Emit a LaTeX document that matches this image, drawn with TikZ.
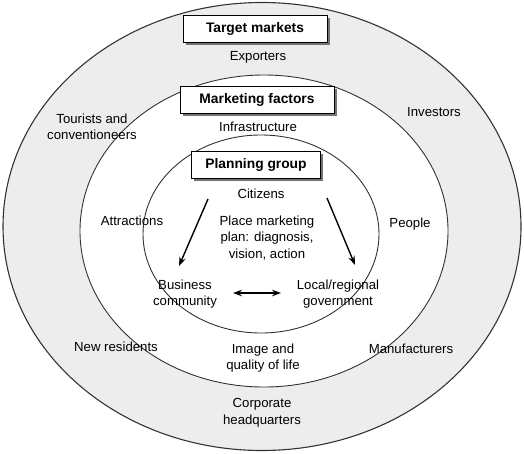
\documentclass[tikz,border=0pt]{standalone}
\usepackage{fontspec}
\setmainfont{Liberation Sans}
\usetikzlibrary{shadows,arrows.meta}

\tikzset{
  ring/.style={draw=black!80, line width=0.9pt},
  headbox/.style={draw, line width=0.9pt, fill=white, font=\fontsize{13.8}{15}\selectfont\bfseries,
    minimum height=27pt, drop shadow={shadow xshift=2.5pt, shadow yshift=-2.5pt, fill=black!55, opacity=1}},
  lbl/.style={font=\fontsize{13.2}{16.5}\selectfont, align=center, inner sep=1pt},
  flow/.style={-{Stealth[length=9pt,width=6.5pt]}, line width=1.4pt}
}

\begin{document}
\begin{tikzpicture}[x=1pt,y=-1pt]
\useasboundingbox (0,0) rectangle (524,453);

% circles
\draw[ring, line width=1.1pt, fill=black!7] (262,226.5) ellipse (259 and 224);
\draw[ring, fill=white] (264,231) ellipse (184 and 156);
\draw[ring, fill=white] (261,234) ellipse (118 and 99);

% headings
\node[headbox, minimum width=144pt] (target) at (255,29) {Target markets};
\node[headbox, minimum width=154pt] (factors) at (257,100) {Marketing factors};
\node[headbox, minimum width=129pt] (planning) at (256,165) {Planning group};

% outer ring
\node[lbl] (exporters) at (258,57) {Exporters};
\node[lbl] (tourists) at (92,127) {Tourists and\\conventioneers};
\node[lbl] (investors) at (434,112) {Investors};
\node[lbl] (newres) at (116,347) {New residents};
\node[lbl] (manuf) at (411,349) {Manufacturers};
\node[lbl] (corporate) at (262,413) {Corporate\\headquarters};

% middle ring
\node[lbl] (infra) at (258,127) {Infrastructure};
\node[lbl] (attract) at (132,221) {Attractions};
\node[lbl] (people) at (410,224) {People};
\node[lbl] (image) at (263,358) {Image and\\quality of life};

% inner
\node[lbl] (citizens) at (261,194) {Citizens};
\node[lbl] (plan) at (267,238) {Place marketing\\plan: diagnosis,\\vision, action};
\node[lbl] (business) at (185,294) {Business\\community};
\node[lbl] (govt) at (338,294) {Local/regional\\government};

\coordinate (lstart) at (208,199);
\coordinate (lend) at (179,266);
\coordinate (rstart) at (327,198);
\coordinate (rend) at (355,265);
\coordinate (bl) at (233,293);
\coordinate (gr) at (281,293);
\draw[flow] (lstart) -- (lend);
\draw[flow] (rstart) -- (rend);
\draw[flow, {Stealth[length=9pt,width=6.5pt]}-{Stealth[length=9pt,width=6.5pt]}] (bl) -- (gr);
\end{tikzpicture}
\end{document}
